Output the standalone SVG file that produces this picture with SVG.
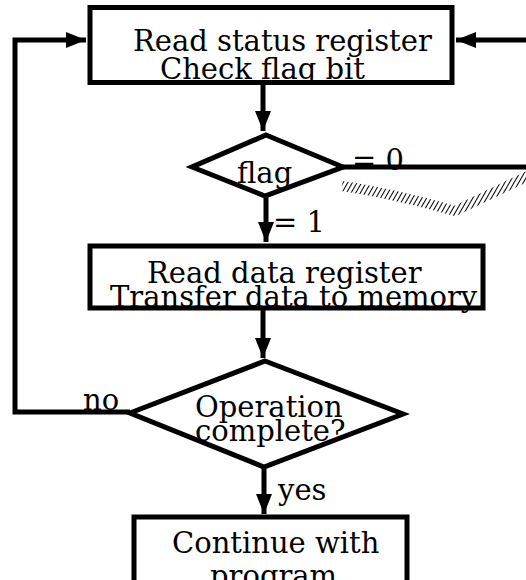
<svg xmlns="http://www.w3.org/2000/svg" width="526" height="580" viewBox="0 0 526 580">
  <style>
    .lbl { font-family: "DejaVu Serif", "Liberation Serif", serif; font-size: 29px; fill: #000; }
    .box { fill: none; stroke: #000; stroke-width: 5; }
    .wire { fill: none; stroke: #000; stroke-width: 5; }
  </style>
  <defs>
    <marker id="arrow" markerUnits="userSpaceOnUse" markerWidth="22" markerHeight="16" refX="20" refY="8" orient="auto">
      <path d="M0,0 L20,8 L0,16 Z" fill="#000"/>
    </marker>
    <pattern id="hatch" width="4" height="4" patternUnits="userSpaceOnUse" patternTransform="rotate(30)">
      <line x1="0" y1="0" x2="0" y2="4" stroke="#000" stroke-width="2"/>
    </pattern>
  </defs>
  <rect width="526" height="580" fill="#fff"/>

  <!-- connectors -->
  <g id="connectors">
    <path class="wire" d="M130,412 H15 V40 H86" marker-end="url(#arrow)"/>
    <path class="wire" d="M343,167 H545 V40 H456" marker-end="url(#arrow)"/>
    <path class="wire" d="M263,84 V131" marker-end="url(#arrow)"/>
    <path class="wire" d="M266,196 V242" marker-end="url(#arrow)"/>
    <path class="wire" d="M263,309 V358" marker-end="url(#arrow)"/>
    <path class="wire" d="M264,467 V514" marker-end="url(#arrow)"/>
    <!-- hatched ground band below the "= 0" exit -->
    <path d="M342,186 C390,193 430,204 455,211 L528,176" fill="none" stroke="url(#hatch)" stroke-width="10"/>
    <text class="lbl" x="352" y="170">= 0</text>
    <text class="lbl" x="273" y="232">= 1</text>
    <text class="lbl" x="83" y="410">no</text>
    <text class="lbl" x="278" y="500">yes</text>
  </g>

  <!-- read status register -->
  <g id="read-status">
    <text class="lbl" x="133" y="51">Read status register</text>
    <text class="lbl" x="160" y="79">Check flag bit</text>
    <rect class="box" x="90" y="7.5" width="362" height="75"/>
  </g>

  <!-- flag test -->
  <g id="flag-test">
    <text class="lbl" x="237" y="183">flag</text>
    <polygon class="box" points="266,135 343,167 265,196 192,167"/>
  </g>

  <!-- read data register -->
  <g id="read-data">
    <text class="lbl" x="147" y="283">Read data register</text>
    <text class="lbl" x="110" y="307">Transfer data to memory</text>
    <rect class="box" x="90" y="246" width="393" height="62"/>
  </g>

  <!-- operation complete test -->
  <g id="op-complete">
    <text class="lbl" x="195" y="417">Operation</text>
    <text class="lbl" x="195" y="441">complete?</text>
    <polygon class="box" points="265,361 403,414 264,467 130,413"/>
  </g>

  <!-- continue -->
  <g id="continue">
    <text class="lbl" x="172" y="553">Continue with</text>
    <text class="lbl" x="210" y="586">program</text>
    <rect class="box" x="134" y="517" width="273" height="80"/>
  </g>
</svg>
